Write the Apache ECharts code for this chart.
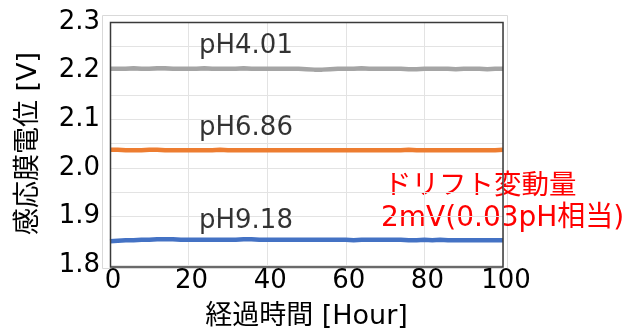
<!DOCTYPE html>
<html lang="ja">
<head>
  <meta charset="UTF-8">
  <title>ドリフト</title>
  <script src="https://cdn.jsdelivr.net/npm/echarts@6/dist/echarts.min.js"></script>
</head>
<body style="margin:0">
  <div id="app" style="width: 629px; height: 335px;"></div>
  <script>
    // 時間 (Hour) 0..100 step 2
    var hours = []
    for (var h = 0; h <= 100; h += 2) hours.push(h)

    var ph401 = [2.204, 2.204, 2.204, 2.205, 2.204, 2.204, 2.205, 2.205, 2.204, 2.204,
                 2.204, 2.204, 2.205, 2.204, 2.204, 2.204, 2.204, 2.205, 2.204, 2.204,
                 2.204, 2.204, 2.204, 2.204, 2.204, 2.203, 2.202, 2.202, 2.203, 2.204,
                 2.204, 2.204, 2.205, 2.204, 2.204, 2.204, 2.204, 2.204, 2.203, 2.203,
                 2.204, 2.204, 2.204, 2.204, 2.203, 2.204, 2.204, 2.204, 2.203, 2.204, 2.204]
    var ph686 = [2.037, 2.037, 2.036, 2.036, 2.036, 2.037, 2.037, 2.036, 2.036, 2.036,
                 2.036, 2.036, 2.036, 2.036, 2.037, 2.036, 2.036, 2.036, 2.036, 2.036,
                 2.036, 2.036, 2.036, 2.036, 2.036, 2.036, 2.036, 2.036, 2.036, 2.036,
                 2.036, 2.036, 2.036, 2.036, 2.036, 2.036, 2.036, 2.036, 2.037, 2.036,
                 2.036, 2.036, 2.036, 2.036, 2.036, 2.036, 2.036, 2.036, 2.036, 2.036, 2.037]
    var ph918 = [1.849, 1.850, 1.851, 1.851, 1.852, 1.852, 1.853, 1.853, 1.853, 1.852,
                 1.852, 1.852, 1.852, 1.852, 1.852, 1.852, 1.852, 1.853, 1.853, 1.852,
                 1.852, 1.852, 1.852, 1.852, 1.852, 1.852, 1.852, 1.852, 1.852, 1.852,
                 1.852, 1.851, 1.852, 1.852, 1.852, 1.852, 1.852, 1.852, 1.851, 1.851,
                 1.852, 1.851, 1.852, 1.851, 1.851, 1.851, 1.851, 1.851, 1.851, 1.851, 1.851]

    var labels = ['pH4.01', 'pH6.86', 'pH9.18']
    var labelPos = [[34.6, 2.250], [34.6, 2.081], [34.6, 1.889]]
    var colors = ['#a5a5a5', '#ed7d31', '#4472c4']
    var seriesValues = [ph401, ph686, ph918]

    var font = '"DejaVu Sans", "Noto Sans CJK JP", sans-serif'
    var jpFont = '"Noto Sans CJK JP", sans-serif'

    var series = []
    for (var i = 0; i < 3; i++) {
      var pts = []
      for (var j = 0; j < hours.length; j++) pts.push([hours[j], seriesValues[i][j]])
      series.push({
        type: 'line',
        data: pts,
        showSymbol: false,
        lineStyle: { color: colors[i], width: 4.5 },
        silent: true,
        z: 3
      })
      series.push({
        type: 'scatter',
        data: [{ value: labelPos[i], name: labels[i] }],
        symbolSize: 0,
        silent: true,
        label: {
          show: true,
          formatter: '{b}',
          color: '#000',
          fontSize: 26,
          fontFamily: font,
          position: 'inside'
        }
      })
    }

    var mCharts = echarts.init(document.querySelector('#app'))
    var option = {
      animation: false,
      grid: { left: 110, top: 22, right: 126, bottom: 68 },
      xAxis: {
        type: 'value',
        min: 0, max: 100, interval: 20,
        name: '経過時間 [Hour]',
        nameLocation: 'middle',
        nameGap: 38,
        nameTextStyle: { fontSize: 27, fontFamily: font, color: '#000' },
        axisLine: { show: false },
        axisTick: { show: false },
        axisLabel: { fontSize: 26, fontFamily: font, color: '#000', margin: 3, padding: [0, 0, 0, 6] },
        splitLine: { show: true, lineStyle: { color: '#e3e3e3' } }
      },
      yAxis: {
        type: 'value',
        min: 1.8, max: 2.3, interval: 0.1,
        name: '感応膜電位 [V]',
        nameLocation: 'middle',
        nameGap: 68,
        nameTextStyle: { fontSize: 27, fontFamily: font, color: '#000' },
        axisLine: { show: false },
        axisTick: { show: false },
        axisLabel: {
          fontSize: 26, fontFamily: font, color: '#000', margin: 10,
          formatter: function (v) { return v.toFixed(1) }
        },
        splitLine: { show: true, lineStyle: { color: '#e3e3e3' } },
        minorTick: { show: false, splitNumber: 2 },
        minorSplitLine: { show: true, lineStyle: { color: '#e3e3e3' } }
      },
      graphic: [
        {
          type: 'rect',
          shape: { x: 102.5, y: 15.5, width: 405, height: 253 },
          style: { fill: 'none', stroke: '#d9d9d9', lineWidth: 1 },
          z: -1
        },
        {
          type: 'rect',
          shape: { x: 110.5, y: 22.5, width: 392.5, height: 244.5 },
          style: { fill: 'none', stroke: '#3a3a3a', lineWidth: 1.5 },
          z: 10
        },
        {
          type: 'text',
          left: 384, top: 170,
          style: { text: 'ドリフト変動量', fontSize: 27.5, fontFamily: jpFont, fill: '#ff0000' }
        },
        {
          type: 'text',
          left: 381, top: 205,
          style: { text: '2mV(0.03pH相当)', fontSize: 28, fontFamily: font, fill: '#ff0000' }
        }
      ],
      series: series
    }
    mCharts.setOption(option)
  </script>
</body>
</html>
